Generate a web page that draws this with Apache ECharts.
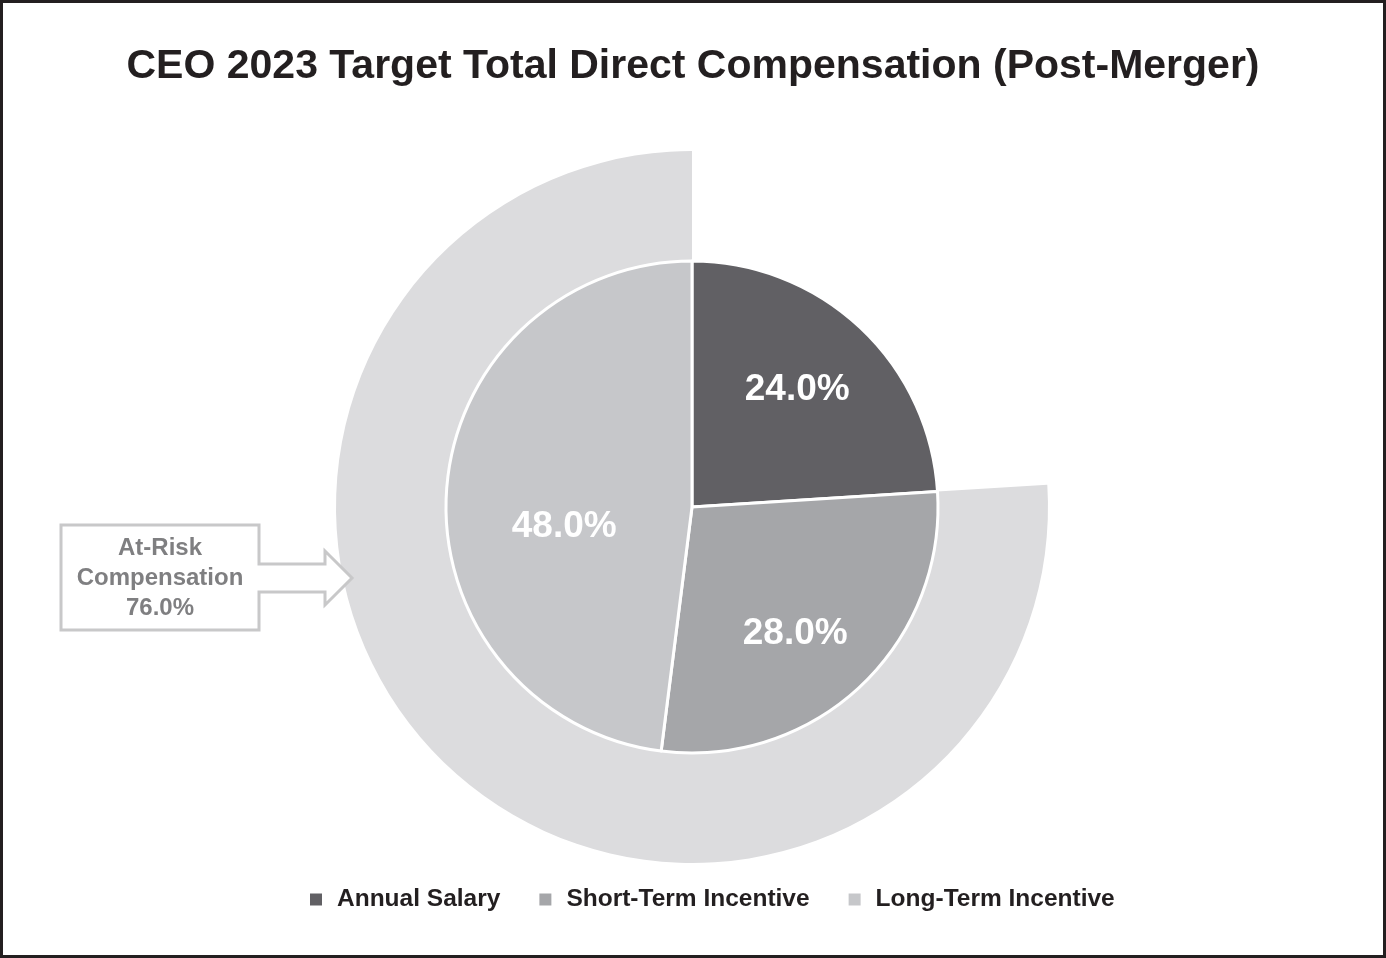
<!DOCTYPE html>
<html>
<head>
<meta charset="utf-8">
<script src="https://cdn.jsdelivr.net/npm/echarts@6/dist/echarts.min.js"></script>
<style>
html,body{margin:0;padding:0;background:#fff;}
#main{width:1386px;height:958px;}
</style>
</head>
<body>
<div id="main"></div>
<script>
const categories = ['Annual Salary', 'Short-Term Incentive', 'Long-Term Incentive'];
const values = [24.0, 28.0, 48.0];
const atRiskValues = [24.0, 76.0];
const atRiskLabel = ['At-Risk', 'Compensation', '76.0%'];
const colors = ['#616064', '#a5a6a9', '#c6c7ca'];
const labelOffsets = [[19, -25], [17, 35], [-2, 28]];

const chart = echarts.init(document.getElementById('main'));
const font = '"Liberation Sans", Arial, Helvetica, sans-serif';

const option = {
  backgroundColor: '#ffffff',
  animation: false,
  title: {
    text: 'CEO 2023 Target Total Direct Compensation (Post-Merger)',
    left: 'center',
    top: 41,
    textStyle: { fontFamily: font, fontWeight: 'bold', fontSize: 41, color: '#231f20' }
  },
  legend: {
    bottom: 41,
    left: 303,
    itemWidth: 14,
    itemHeight: 14,
    itemGap: 37,
    icon: 'rect',
    data: categories,
    textStyle: { fontFamily: font, fontWeight: 'bold', fontSize: 24.5, color: '#231f20', padding: [0, 0, 0, 9] }
  },
  series: [
    {
      type: 'pie',
      name: 'At-Risk',
      center: [692, 507],
      radius: [246, 356],
      startAngle: 90,
      clockwise: true,
      silent: true,
      label: { show: false },
      labelLine: { show: false },
      z: 1,
      data: [
        { value: atRiskValues[0], name: 'gap', itemStyle: { color: 'rgba(0,0,0,0)' } },
        { value: atRiskValues[1], name: 'atrisk', itemStyle: { color: '#dcdcde' } }
      ]
    },
    {
      type: 'pie',
      name: 'TDC',
      center: [692, 507],
      radius: [0, 246],
      startAngle: 90,
      clockwise: true,
      z: 2,
      itemStyle: { borderColor: '#ffffff', borderWidth: 3 },
      label: {
        show: true,
        position: 'inside',
        formatter: p => p.value.toFixed(1) + '%',
        fontFamily: font,
        fontWeight: 'bold',
        fontSize: 37,
        color: '#ffffff'
      },
      labelLine: { show: false },
      data: categories.map((c, i) => ({
        name: c,
        value: values[i],
        itemStyle: { color: colors[i] },
        label: { offset: labelOffsets[i] }
      }))
    }
  ],
  graphic: [
    {
      type: 'polygon',
      shape: {
        points: [[61,525],[259,525],[259,564],[325,564],[325,551],[352,578],[325,605],[325,592],[259,592],[259,630],[61,630]]
      },
      style: { fill: '#ffffff', stroke: '#c8c8c9', lineWidth: 3 },
      z: 10
    },
    {
      type: 'text',
      x: 160, y: 578,
      style: {
        text: atRiskLabel.join('\n'),
        align: 'center',
        verticalAlign: 'middle',
        fontFamily: font,
        fontWeight: 'bold',
        fontSize: 24,
        lineHeight: 30,
        fill: '#7f7f81'
      },
      z: 11
    },
    {
      type: 'rect',
      shape: { x: 1.5, y: 1.5, width: 1383, height: 955 },
      style: { fill: 'none', stroke: '#231f20', lineWidth: 3 },
      z: 20
    }
  ]
};
chart.setOption(option);
</script>
</body>
</html>
